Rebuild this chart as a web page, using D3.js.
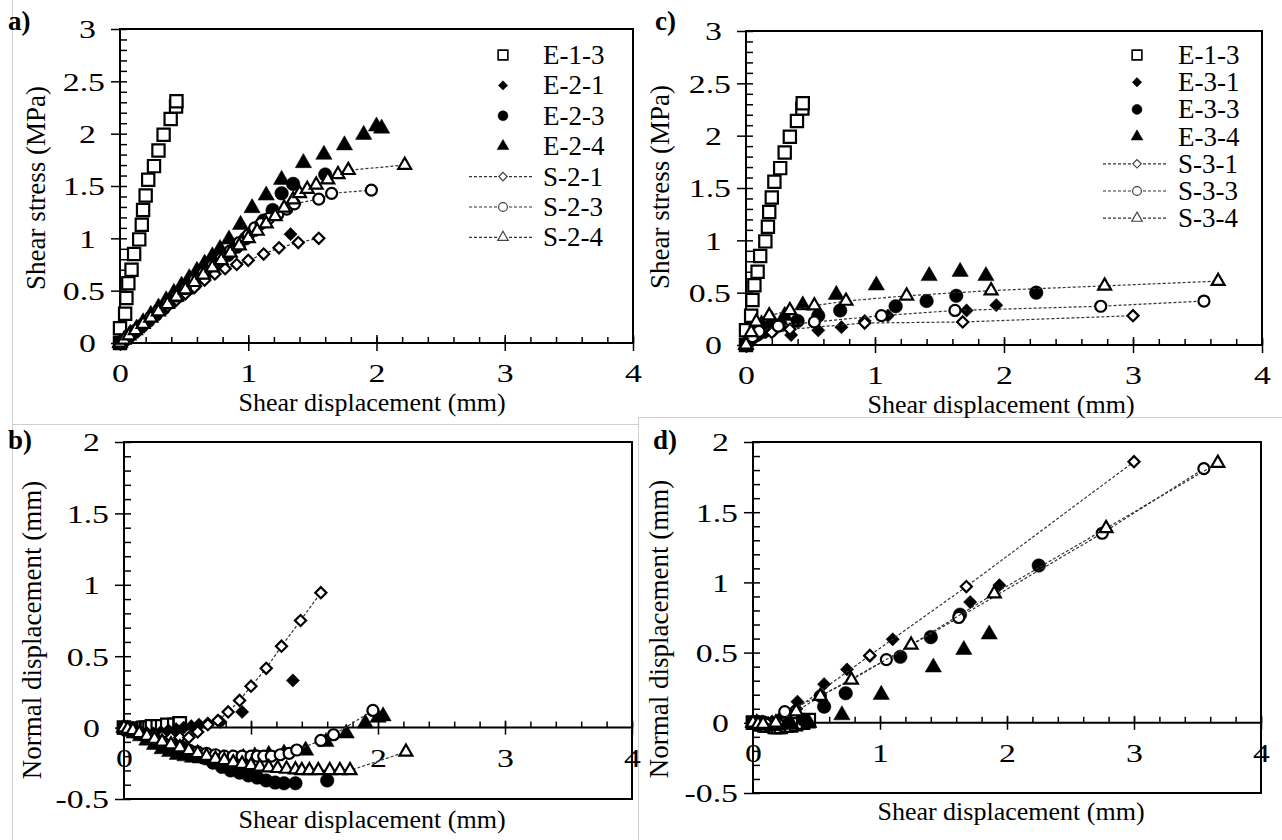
<!DOCTYPE html>
<html>
<head>
<meta charset="utf-8">
<script src="https://cdn.jsdelivr.net/npm/d3@7"></script>
<style>
body { margin: 0; background: #fff; }
svg text { font-family: "Liberation Serif", "Times New Roman", serif; fill: #000; }
</style>
</head>
<body>
<div id="chart"></div>
<script>

// tick values
var xTicks = [0, 1, 2, 3, 4];
var stressTicks = [0, 0.5, 1, 1.5, 2, 2.5, 3];
var normalTicks = [-0.5, 0, 0.5, 1, 1.5, 2];

// E-1-3 (same test in every panel)
var e13_x   = [0, 0.0, 0.04, 0.05, 0.065, 0.09, 0.11, 0.15, 0.17, 0.18, 0.20, 0.22, 0.265, 0.30, 0.34, 0.395, 0.437, 0.44];
var e13_tau = [0, 0.14, 0.28, 0.43, 0.57, 0.70, 0.85, 0.99, 1.13, 1.27, 1.41, 1.56, 1.69, 1.84, 1.99, 2.14, 2.26, 2.31];
var e13_dnB = [0, 0, -0.01, -0.01, -0.01, -0.01, -0.01, 0, 0, 0, 0, 0.01, 0.01, 0.01, 0.02, 0.02, 0.03, 0.03];
var e13_dnD = [0, 0, 0, -0.01, -0.01, -0.02, -0.02, -0.02, -0.03, -0.03, -0.03, -0.03, -0.02, -0.02, -0.01, 0, 0.01, 0.02];

// group 2 (panels a, b)
var e21_x   = [0, 0.02, 0.05, 0.09, 0.13, 0.18, 0.23, 0.29, 0.35, 0.41, 0.47, 0.53, 0.59, 0.66, 0.76, 0.93, 1.33];
var e21_tau = [0, 0.01, 0.04, 0.08, 0.12, 0.17, 0.22, 0.28, 0.34, 0.40, 0.46, 0.52, 0.58, 0.65, 0.75, 0.92, 1.04];
var e21_dn  = [0, -0.01, -0.02, -0.03, -0.04, -0.04, -0.04, -0.03, -0.02, -0.01, 0, 0.01, 0.02, 0.03, 0.04, 0.11, 0.33];

var e23_x   = [0, 0.03, 0.07, 0.12, 0.17, 0.22, 0.28, 0.34, 0.40, 0.46, 0.52, 0.58, 0.64, 0.70, 0.77, 0.84, 0.91, 0.98, 1.05, 1.12, 1.19, 1.26, 1.35, 1.60];
var e23_tau = [0, 0.02, 0.06, 0.11, 0.16, 0.21, 0.27, 0.33, 0.39, 0.45, 0.51, 0.57, 0.63, 0.69, 0.76, 0.84, 0.92, 1.00, 1.08, 1.17, 1.27, 1.43, 1.52, 1.61];
var e23_dn  = [0, -0.01, -0.02, -0.04, -0.05, -0.07, -0.09, -0.11, -0.12, -0.14, -0.165, -0.19, -0.215, -0.245, -0.275, -0.30, -0.315, -0.335, -0.35, -0.37, -0.385, -0.39, -0.39, -0.37];

var e24_x   = [0, 0.04, 0.08, 0.13, 0.18, 0.24, 0.30, 0.36, 0.42, 0.48, 0.54, 0.60, 0.66, 0.72, 0.78, 0.85, 0.94, 1.03, 1.14, 1.26, 1.43, 1.59, 1.75, 1.90, 2.00, 2.04];
var e24_tau = [0, 0.04, 0.09, 0.14, 0.20, 0.27, 0.34, 0.41, 0.48, 0.55, 0.62, 0.69, 0.76, 0.83, 0.90, 0.99, 1.13, 1.29, 1.41, 1.56, 1.72, 1.80, 1.89, 1.99, 2.07, 2.05];
var e24_dn  = [0, -0.02, -0.04, -0.06, -0.09, -0.12, -0.15, -0.17, -0.19, -0.20, -0.21, -0.215, -0.22, -0.22, -0.22, -0.22, -0.21, -0.20, -0.19, -0.18, -0.16, -0.10, -0.04, 0.03, 0.07, 0.08];

var s21_x   = [0, 0.03, 0.07, 0.12, 0.18, 0.24, 0.30, 0.37, 0.44, 0.51, 0.58, 0.66, 0.74, 0.82, 0.91, 1.0, 1.12, 1.24, 1.39, 1.55];
var s21_tau = [0, 0.03, 0.07, 0.12, 0.17, 0.23, 0.29, 0.35, 0.41, 0.47, 0.53, 0.60, 0.66, 0.71, 0.75, 0.79, 0.85, 0.91, 0.96, 1.0];
var s21_dn  = [0, -0.01, -0.02, -0.03, -0.04, -0.05, -0.06, -0.07, -0.07, -0.07, -0.03, 0.02, 0.05, 0.11, 0.19, 0.29, 0.415, 0.57, 0.75, 0.945];

var s23_x   = [0, 0.03, 0.07, 0.12, 0.18, 0.24, 0.30, 0.37, 0.44, 0.51, 0.58, 0.65, 0.72, 0.79, 0.86, 0.93, 1.0, 1.05, 1.10, 1.16, 1.23, 1.30, 1.36, 1.55, 1.65, 1.96];
var s23_tau = [0, 0.03, 0.07, 0.12, 0.18, 0.25, 0.31, 0.38, 0.45, 0.52, 0.60, 0.67, 0.74, 0.81, 0.88, 0.96, 1.03, 1.10, 1.14, 1.19, 1.23, 1.28, 1.33, 1.375, 1.43, 1.46];
var s23_dn  = [0, -0.01, -0.02, -0.04, -0.06, -0.08, -0.10, -0.12, -0.14, -0.16, -0.17, -0.18, -0.19, -0.20, -0.20, -0.20, -0.20, -0.20, -0.20, -0.20, -0.19, -0.18, -0.157, -0.09, -0.05, 0.12];

var s24_x   = [0, 0.03, 0.07, 0.12, 0.18, 0.24, 0.30, 0.37, 0.44, 0.51, 0.58, 0.65, 0.72, 0.79, 0.86, 0.93, 1.0, 1.07, 1.14, 1.21, 1.28, 1.35, 1.40, 1.46, 1.53, 1.62, 1.70, 1.78, 2.22];
var s24_tau = [0, 0.03, 0.07, 0.12, 0.18, 0.24, 0.30, 0.37, 0.44, 0.51, 0.58, 0.65, 0.72, 0.79, 0.86, 0.93, 1.0, 1.07, 1.14, 1.21, 1.29, 1.37, 1.43, 1.47, 1.51, 1.56, 1.61, 1.65, 1.70];
var s24_dn  = [0, -0.01, -0.02, -0.04, -0.06, -0.08, -0.10, -0.12, -0.14, -0.16, -0.18, -0.20, -0.22, -0.23, -0.245, -0.255, -0.265, -0.275, -0.28, -0.285, -0.29, -0.295, -0.30, -0.30, -0.30, -0.30, -0.30, -0.30, -0.17];

// group 3 (panels c, d)
var e31_x   = [0, 0.03, 0.06, 0.10, 0.15, 0.22, 0.35, 0.56, 0.74, 0.92, 1.10, 1.71, 1.94];
var e31_tau = [0, 0.04, 0.07, 0.10, 0.12, 0.14, 0.095, 0.14, 0.17, 0.23, 0.28, 0.33, 0.38];
var e31_dn  = [0, 0, 0, 0, 0.01, 0.04, 0.15, 0.275, 0.38, 0.475, 0.595, 0.86, 0.98];

var e33_x   = [0, 0.02, 0.05, 0.09, 0.14, 0.20, 0.27, 0.40, 0.56, 0.73, 1.16, 1.40, 1.63, 2.25];
var e33_tau = [0, 0.03, 0.07, 0.10, 0.13, 0.16, 0.19, 0.23, 0.28, 0.33, 0.37, 0.42, 0.47, 0.50];
var e33_dn  = [0, 0, 0, 0, -0.01, -0.01, 0, 0.02, 0.115, 0.21, 0.47, 0.61, 0.77, 1.12];

var e34_x   = [0, 0.03, 0.07, 0.12, 0.20, 0.30, 0.44, 0.70, 1.01, 1.42, 1.66, 1.86];
var e34_tau = [0, 0.08, 0.15, 0.20, 0.24, 0.28, 0.38, 0.48, 0.57, 0.66, 0.70, 0.66];
var e34_dn  = [0, 0, -0.01, -0.02, -0.02, -0.01, 0.0, 0.055, 0.20, 0.395, 0.52, 0.63];

var s31_x   = [0, 0.05, 0.10, 0.20, 0.34, 0.92, 1.68, 3.00];
var s31_tau = [0, 0.06, 0.10, 0.12, 0.15, 0.21, 0.22, 0.28];
var s31_dn  = [0, 0, -0.01, 0, 0.10, 0.48, 0.97, 1.86];

var s33_x   = [0, 0.05, 0.10, 0.25, 0.53, 1.05, 1.62, 2.75, 3.55];
var s33_tau = [0, 0.08, 0.13, 0.18, 0.22, 0.28, 0.33, 0.37, 0.42];
var s33_dn  = [0, -0.01, -0.01, 0.08, 0.19, 0.45, 0.75, 1.35, 1.81];

var s34_x   = [0, 0.04, 0.08, 0.18, 0.34, 0.53, 0.775, 1.245, 1.90, 2.78, 3.66];
var s34_tau = [0, 0.12, 0.22, 0.28, 0.33, 0.375, 0.42, 0.47, 0.52, 0.565, 0.61];
var s34_dn  = [0, -0.01, -0.01, 0, 0.08, 0.19, 0.305, 0.555, 0.92, 1.385, 1.85];


var FS = 27;
var TICK_FS = 26;
var TICK_SX = 1.3;   // tick digits in the source are drawn wide

// marker shapes: data size (filled / open) and legend size
var shapes = {
    square:   {sym: d3.symbolSquare,   rot: 0,  fill: 150, open: 150, leg: 95},
    diamond:  {sym: d3.symbolSquare,   rot: 45, fill: 88,  open: 62,  leg: 44},
    circle:   {sym: d3.symbolCircle,   rot: 0,  fill: 145, open: 95,  leg: 78},
    triangle: {sym: d3.symbolTriangle, rot: 0,  fill: 115, open: 72,  leg: 60}
};

function series2(tau) {
    return [
        {name: "E-1-3", x: e13_x, y: tau ? e13_tau : e13_dnB, shape: "square", open: true},
        {name: "E-2-1", x: e21_x, y: tau ? e21_tau : e21_dn, shape: "diamond"},
        {name: "E-2-3", x: e23_x, y: tau ? e23_tau : e23_dn, shape: "circle"},
        {name: "E-2-4", x: e24_x, y: tau ? e24_tau : e24_dn, shape: "triangle"},
        {name: "S-2-1", x: s21_x, y: tau ? s21_tau : s21_dn, shape: "diamond", open: true, line: true},
        {name: "S-2-3", x: s23_x, y: tau ? s23_tau : s23_dn, shape: "circle", open: true, line: true},
        {name: "S-2-4", x: s24_x, y: tau ? s24_tau : s24_dn, shape: "triangle", open: true, line: true}
    ];
}
function series3(tau) {
    return [
        {name: "E-1-3", x: e13_x, y: tau ? e13_tau : e13_dnD, shape: "square", open: true},
        {name: "E-3-1", x: e31_x, y: tau ? e31_tau : e31_dn, shape: "diamond"},
        {name: "E-3-3", x: e33_x, y: tau ? e33_tau : e33_dn, shape: "circle"},
        {name: "E-3-4", x: e34_x, y: tau ? e34_tau : e34_dn, shape: "triangle"},
        {name: "S-3-1", x: s31_x, y: tau ? s31_tau : s31_dn, shape: "diamond", open: true, line: true},
        {name: "S-3-3", x: s33_x, y: tau ? s33_tau : s33_dn, shape: "circle", open: true, line: true},
        {name: "S-3-4", x: s34_x, y: tau ? s34_tau : s34_dn, shape: "triangle", open: true, line: true}
    ];
}

var panels = [
    {label: "a)", lx: 8, ly: 30, left: 120, right: 633, top: 29, bottom: 343, yDomain: [0, 3], yTicks: stressTicks,
     yTitle: "Shear stress (MPa)", ytx: 45, yty: 188, xtx: 372, xty: 411, tick: 8,
     legend: {sx: 503, tx: 543, y0: 55, dy: 30.4, l1: 469, l2: 533}, series: series2(true)},
    {label: "b)", lx: 8, ly: 449, left: 124, right: 632, top: 442, bottom: 799, yDomain: [-0.5, 2], yTicks: normalTicks,
     yTitle: "Normal displacement (mm)", ytx: 41, yty: 630, xtx: 372, xty: 828, tick: 7,
     series: series2(false)},
    {label: "c)", lx: 655, ly: 30, left: 746, right: 1262, top: 31, bottom: 345, yDomain: [0, 3], yTicks: stressTicks,
     yTitle: "Shear stress (MPa)", ytx: 669, yty: 187, xtx: 1001, xty: 413, tick: 8,
     legend: {sx: 1137, tx: 1178, y0: 55, dy: 27.2, l1: 1103, l2: 1168}, series: series3(true)},
    {label: "d)", lx: 653, ly: 449, left: 753, right: 1261, top: 442, bottom: 793, yDomain: [-0.5, 2], yTicks: normalTicks,
     yTitle: "Normal displacement (mm)", ytx: 668, yty: 629, xtx: 1011, xty: 820, tick: 7,
     series: series3(false)}
];

var svg = d3.select("#chart").append("svg")
    .attr("width", 1282)
    .attr("height", 840)
    .style("font-size", FS + "px");

// light page separators of the original figure
var seps = [[12.5, 0, 12.5, 840], [12.5, 424.5, 638.5, 424.5], [638.5, 417.5, 638.5, 840], [638.5, 417.5, 1282, 417.5]];
svg.selectAll("line.sep").data(seps).enter().append("line")
    .attr("class", "sep")
    .attr("x1", function(d) { return d[0]; }).attr("y1", function(d) { return d[1]; })
    .attr("x2", function(d) { return d[2]; }).attr("y2", function(d) { return d[3]; })
    .attr("stroke", "#cfcfcf").attr("stroke-width", 1);

function markerPath(shape, size) {
    return d3.symbol().type(shapes[shape].sym).size(size)();
}

function clean(sel) {
    sel.select(".domain").remove();
    sel.attr("font-family", null).attr("font-size", TICK_FS);
    sel.selectAll("line").attr("stroke", "#000").attr("stroke-width", 1.5);
}

function drawPanel(p) {
    var g = svg.append("g");
    var x = d3.scaleLinear().domain([0, 4]).range([p.left, p.right]);
    var y = d3.scaleLinear().domain(p.yDomain).range([p.bottom, p.top]);
    var y0 = y(0);

    // y axis: minor ticks inside, major ticks outside
    g.append("g").attr("transform", "translate(" + p.left + ",0)")
        .call(d3.axisRight(y).tickValues(y.ticks(30)).tickSize(7).tickFormat(""))
        .call(clean);
    var ya = g.append("g").attr("transform", "translate(" + p.left + ",0)")
        .call(d3.axisLeft(y).tickValues(p.yTicks).tickSize(9).tickFormat(String))
        .call(clean);
    ya.selectAll("text")
        .attr("text-anchor", "end")
        .attr("dy", "0.34em")
        .attr("x", 0)
        .attr("transform", function(d) {
            var off = String(d).indexOf(".") >= 0 ? -15 : -24;
            return "translate(" + off + ",0) scale(" + TICK_SX + ",1)";
        });

    // x axis at y = 0
    g.append("g").attr("transform", "translate(0," + y0 + ")")
        .call(d3.axisTop(x).tickValues(x.ticks(20)).tickSize(6).tickFormat(""))
        .call(clean);
    var xa = g.append("g").attr("transform", "translate(0," + y0 + ")")
        .call(d3.axisBottom(x).tickValues(xTicks).tickSize(p.tick).tickFormat(String))
        .call(clean);
    xa.selectAll("line").attr("y1", -p.tick);
    xa.selectAll("text")
        .attr("y", 0).attr("dy", null)
        .attr("transform", "translate(0,39) scale(" + TICK_SX + ",1)");

    // frame
    g.append("rect")
        .attr("x", p.left).attr("y", p.top)
        .attr("width", p.right - p.left).attr("height", p.bottom - p.top)
        .attr("fill", "none").attr("stroke", "#000").attr("stroke-width", 2);
    g.append("line")
        .attr("x1", p.left).attr("x2", p.right).attr("y1", y0).attr("y2", y0)
        .attr("stroke", "#000").attr("stroke-width", 2);

    // titles
    g.append("text").attr("x", p.xtx).attr("y", p.xty).attr("text-anchor", "middle")
        .attr("font-size", 26).text("Shear displacement (mm)");
    g.append("text")
        .attr("transform", "translate(" + p.ytx + "," + p.yty + ") rotate(-90)")
        .attr("text-anchor", "middle").text(p.yTitle);
    g.append("text").attr("x", p.lx).attr("y", p.ly).attr("font-weight", "bold").text(p.label);

    // series
    var line = d3.line()
        .x(function(d) { return x(d[0]); })
        .y(function(d) { return y(d[1]); });

    p.series.forEach(function(s) {
        var pts = s.x.map(function(v, i) { return [v, s.y[i]]; });
        if (s.line) {
            g.append("path").datum(pts)
                .attr("d", line)
                .attr("fill", "none")
                .attr("stroke", "#333")
                .attr("stroke-width", 1.2)
                .attr("stroke-dasharray", "3,2");
        }
        var sh = shapes[s.shape];
        g.append("g").selectAll("path")
            .data(pts)
            .enter()
            .append("path")
            .attr("transform", function(d) {
                return "translate(" + x(d[0]) + "," + y(d[1]) + ") rotate(" + sh.rot + ")";
            })
            .attr("d", markerPath(s.shape, s.open ? sh.open : sh.fill))
            .attr("fill", s.open ? "#fff" : "#000")
            .attr("stroke", "#000")
            .attr("stroke-width", s.open ? 2.2 : 0.5);
    });

    // legend
    if (p.legend) {
        var L = p.legend;
        p.series.forEach(function(s, i) {
            var ly = L.y0 + i * L.dy;
            var sh = shapes[s.shape];
            if (s.line) {
                g.append("line")
                    .attr("x1", L.l1).attr("x2", L.l2).attr("y1", ly).attr("y2", ly)
                    .attr("stroke", "#333").attr("stroke-width", 1.2).attr("stroke-dasharray", "3,2");
            }
            g.append("path")
                .attr("transform", "translate(" + L.sx + "," + ly + ") rotate(" + sh.rot + ")")
                .attr("d", markerPath(s.shape, s.line ? sh.leg * 0.8 : sh.leg))
                .attr("fill", s.open ? "#fff" : "#000")
                .attr("stroke", s.line ? "#444" : "#000")
                .attr("stroke-width", s.open ? (s.line ? 1.2 : 1.6) : 0.5);
            g.append("text").attr("x", L.tx).attr("y", ly + 9).text(s.name);
        });
    }
}

panels.forEach(drawPanel);

</script>
</body>
</html>
